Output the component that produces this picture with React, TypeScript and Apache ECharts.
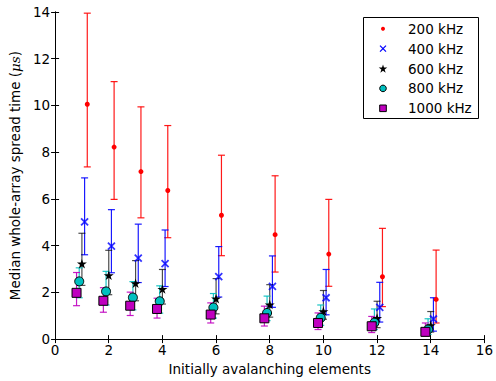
import React, { useEffect, useRef } from "react";
import * as echarts from "echarts";

// Data
const elements = [1, 2, 3, 4, 6, 8, 10, 12, 14];
const seriesNames = ["200 kHz", "400 kHz", "600 kHz", "800 kHz", "1000 kHz"];

const med200 = [10.05, 8.22, 7.17, 6.36, 5.3, 4.47, 3.64, 2.67, 1.7];
const hi200 = [13.95, 11.02, 9.94, 9.14, 7.87, 6.99, 5.98, 4.74, 3.81];
const lo200 = [7.37, 5.98, 5.19, 4.34, 3.57, 2.87, 2.26, 1.39, 0.69];

const med400 = [5.02, 3.98, 3.47, 3.23, 2.67, 2.26, 1.77, 1.36, 0.86];
const hi400 = [6.9, 5.54, 4.92, 4.67, 3.96, 3.56, 2.98, 2.43, 1.77];
const lo400 = [3.61, 2.84, 2.42, 2.25, 1.8, 1.36, 1.04, 0.73, 0.34];

const med600 = [3.23, 2.73, 2.39, 2.14, 1.73, 1.48, 1.19, 0.9, 0.59];
const hi600 = [4.53, 3.8, 3.36, 2.98, 2.59, 2.33, 2.08, 1.62, 1.18];
const lo600 = [2.3, 1.9, 1.64, 1.5, 1.08, 0.94, 0.85, 0.49, 0.3];

const med800 = [2.47, 2.04, 1.78, 1.62, 1.35, 1.12, 0.91, 0.7, 0.41];
const hi800 = [3.05, 2.9, 2.46, 2.28, 1.95, 1.84, 1.46, 1.29, 0.87];
const lo800 = [1.77, 1.46, 1.25, 1.11, 0.9, 0.79, 0.59, 0.41, 0.2];

const med1000 = [1.98, 1.64, 1.43, 1.29, 1.05, 0.89, 0.69, 0.55, 0.31];
const hi1000 = [2.85, 2.2, 2.01, 1.75, 1.55, 1.41, 1.12, 0.97, 0.69];
const lo1000 = [1.43, 1.15, 1.01, 0.9, 0.69, 0.56, 0.41, 0.28, 0.14];

const FONT = "DejaVu Sans";

const STAR =
  "path://M0,-100L22.45,-30.9L95.11,-30.9L36.33,11.8L58.78,80.9L0,38.2L-58.78,80.9L-36.33,11.8L-95.11,-30.9L-22.45,-30.9Z";
const CROSS = "path://M0,0L10,10M10,0L0,10";

const styles = [
  { color: "#ff0000", offset: 0.2, symbol: "circle", size: 5, border: "#ff0000", bw: 0 },
  { color: "#0000ff", offset: 0.1, symbol: CROSS, size: 7, border: "#0000ff", bw: 1.8 },
  { color: "#000000", offset: 0, symbol: STAR, size: 10, border: "#000000", bw: 0 },
  { color: "#00bfbf", offset: -0.1, symbol: "circle", size: 9, border: "#000000", bw: 1 },
  { color: "#bf00bf", offset: -0.2, symbol: "rect", size: 9, border: "#000000", bw: 1 },
];

const meds = [med200, med400, med600, med800, med1000];
const his = [hi200, hi400, hi600, hi800, hi1000];
const los = [lo200, lo400, lo600, lo800, lo1000];

export default function App() {
  const ref = useRef<HTMLDivElement>(null);
  useEffect(() => {
    if (!ref.current) return;
    const chart = echarts.init(ref.current, undefined, { renderer: "svg" });
    const series: any[] = [];
    seriesNames.forEach((name, i) => {
      const st = styles[i];
      series.push({
        type: "custom",
        name: name + " err",
        xAxisIndex: 0,
        yAxisIndex: 0,
        encode: { x: 0, y: [1, 2] },
        data: elements.map((e, j) => [e + st.offset, los[i][j], his[i][j]]),
        renderItem: (params: any, api: any) => {
          const x = api.value(0);
          const pLo = api.coord([x, api.value(1)]);
          const pHi = api.coord([x, api.value(2)]);
          const hw = 3.5;
          const s = { stroke: st.color, lineWidth: 1.2, opacity: i === 2 ? 0.7 : 0.9 };
          return {
            type: "group",
            children: [
              { type: "line", shape: { x1: pLo[0], y1: pLo[1], x2: pHi[0], y2: pHi[1] }, style: s },
              { type: "line", shape: { x1: pLo[0] - hw, y1: pLo[1], x2: pLo[0] + hw, y2: pLo[1] }, style: s },
              { type: "line", shape: { x1: pHi[0] - hw, y1: pHi[1], x2: pHi[0] + hw, y2: pHi[1] }, style: s },
            ],
          };
        },
        z: 2,
      });
      series.push({
        type: "scatter",
        name,
        data: elements.map((e, j) => [e + st.offset, meds[i][j]]),
        symbol: st.symbol,
        symbolSize: st.size,
        symbolKeepAspect: true,
        itemStyle:
          st.symbol === CROSS
            ? { color: "none", borderColor: st.border, borderWidth: st.bw }
            : { color: st.color, borderColor: st.border, borderWidth: st.bw, opacity: 1 },
        z: 3,
      });
    });

    // legend (graphic)
    const lx = 383;
    const ly0 = 28.7;
    const gap = 19.9;
    const legendChildren: any[] = [
      { type: "rect", shape: { x: 363.5, y: 17.5, width: 115, height: 101 }, style: { fill: "#fff", stroke: "#000", lineWidth: 1 } },
    ];
    const starPts = (cx: number, cy: number, r: number) => {
      const pts: number[][] = [];
      for (let k = 0; k < 10; k++) {
        const rr = k % 2 === 0 ? r : r * 0.382;
        const a = (-90 + 36 * k) * (Math.PI / 180);
        pts.push([cx + rr * Math.cos(a), cy + rr * Math.sin(a)]);
      }
      return pts;
    };
    seriesNames.forEach((name, i) => {
      const y = ly0 + gap * i;
      if (i === 0) legendChildren.push({ type: "circle", shape: { cx: lx, cy: y, r: 2 }, style: { fill: "#ff0000" } });
      if (i === 1) {
        legendChildren.push({ type: "line", shape: { x1: lx - 3, y1: y - 3, x2: lx + 3, y2: y + 3 }, style: { stroke: "#0000ff", lineWidth: 1.3 } });
        legendChildren.push({ type: "line", shape: { x1: lx - 3, y1: y + 3, x2: lx + 3, y2: y - 3 }, style: { stroke: "#0000ff", lineWidth: 1.3 } });
      }
      if (i === 2) legendChildren.push({ type: "polygon", shape: { points: starPts(lx, y + 0.5, 4.5) }, style: { fill: "#000" } });
      if (i === 3) legendChildren.push({ type: "circle", shape: { cx: lx, cy: y, r: 3.3 }, style: { fill: "#00bfbf", stroke: "#000", lineWidth: 1 } });
      if (i === 4) legendChildren.push({ type: "rect", shape: { x: lx - 3.3, y: y - 3.3, width: 6.6, height: 6.6 }, style: { fill: "#bf00bf", stroke: "#000", lineWidth: 1 } });
      legendChildren.push({
        type: "text",
        x: 408,
        y,
        style: { text: name, fill: "#000", font: `13.5px '${FONT}'`, verticalAlign: "middle" },
      });
    });

    const axisCommon = {
      type: "value",
      axisLine: { show: true, lineStyle: { color: "#000", width: 1 } },
      axisTick: { show: true, inside: true, length: 4, lineStyle: { color: "#000" } },
      splitLine: { show: false },
    };

    chart.setOption({
      animation: false,
      backgroundColor: "#fff",
      grid: { left: 54, right: 11, top: 12, bottom: 37, containLabel: false },
      xAxis: [
        {
          ...axisCommon,
          min: 0,
          max: 16,
          interval: 2,
          position: "bottom",
          axisLabel: { color: "#000", fontSize: 13.5, fontFamily: FONT, margin: 4 },
          name: "Initially avalanching elements",
          nameLocation: "middle",
          nameGap: 20,
          nameTextStyle: { color: "#000", fontSize: 13.5, fontFamily: FONT },
        },
        { ...axisCommon, min: 0, max: 16, interval: 2, position: "top", axisLabel: { show: false } },
      ],
      yAxis: [
        {
          ...axisCommon,
          min: 0,
          max: 14,
          interval: 2,
          position: "left",
          axisLabel: { color: "#000", fontSize: 13.5, fontFamily: FONT, margin: 5 },
          name: "Median whole-array spread time ({i|μs})",
          nameLocation: "middle",
          nameGap: 28,
          nameTextStyle: {
            color: "#000",
            fontSize: 13.5,
            fontFamily: FONT,
            rich: { i: { fontStyle: "italic", fontSize: 13.5, fontFamily: "DejaVu Serif", color: "#000" } },
          },
        },
        { ...axisCommon, min: 0, max: 14, interval: 2, position: "right", axisLabel: { show: false } },
      ],
      graphic: [{ type: "group", children: legendChildren, z: 100 }],
      series,
    });
    return () => chart.dispose();
  }, []);
  return <div ref={ref} style={{ position: "fixed", left: 0, top: 0, width: 496, height: 381 }} />;
}
